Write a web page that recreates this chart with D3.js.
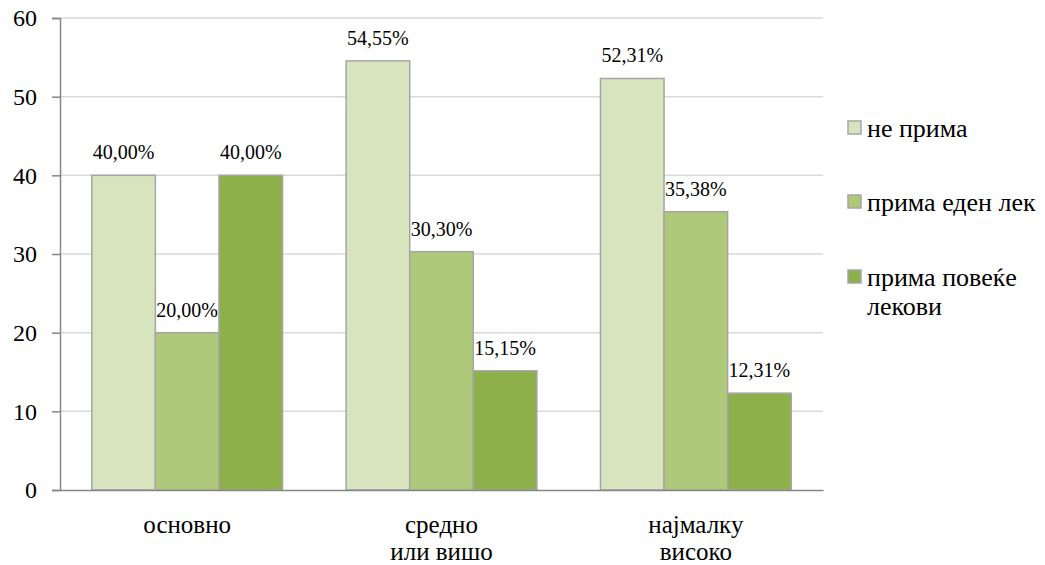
<!DOCTYPE html>
<html>
<head>
<meta charset="utf-8">
<script src="https://cdn.jsdelivr.net/npm/d3@7"></script>
<style>
  html, body { margin: 0; padding: 0; background: #fff; }
</style>
</head>
<body>
<svg id="chart" width="1045" height="565"></svg>
<script>
// Education level groups (two-line labels split by "\n")
const categories = ["основно", "средно\nили вишо", "најмалку\nвисоко"];
const seriesNames = ["не прима", "прима еден лек", "прима повеќе\nлекови"];
const noMedication = [40.00, 54.55, 52.31];
const oneMedication = [20.00, 30.30, 35.38];
const severalMedications = [40.00, 15.15, 12.31];
const yTicks = [0, 10, 20, 30, 40, 50, 60];
const colors = ["#d7e4bd", "#afc97b", "#8eb04a"];

const series = [noMedication, oneMedication, severalMedications];

// Pick the first installed serif face; fall back to a sans face with adjusted sizes
function hasFont(name) {
  const ctx = document.createElement("canvas").getContext("2d");
  const sample = "прима еден лек 0123456789 WMwmil";
  return ["monospace", "sans-serif", "serif"].some(base => {
    ctx.font = `40px ${base}`;
    const w0 = ctx.measureText(sample).width;
    ctx.font = `40px "${name}", ${base}`;
    return ctx.measureText(sample).width !== w0;
  });
}
const serifFace = ["Liberation Serif", "Times New Roman", "Tinos", "DejaVu Serif", "Noto Serif", "FreeSerif", "Nimbus Roman"].find(hasFont);
const FONT = serifFace ? `"${serifFace}", serif` : `"Liberation Sans", Arial, sans-serif`;
const sizes = serifFace
  ? { tick: 24, value: 20, category: 25, legend: 26 }
  : { tick: 22, value: 20, category: 25, legend: 25 };

const svg = d3.select("#chart").attr("font-family", FONT);
const x0 = 60, x1 = 823, yTop = 18, yBottom = 490;

const x = d3.scaleBand().domain(categories).range([x0, x1]).paddingInner(0.25).paddingOuter(0.125);
const xs = d3.scaleBand().domain(d3.range(series.length)).range([0, x.bandwidth()]);
const y = d3.scaleLinear().domain([0, 60]).range([yBottom, yTop]);

// Horizontal gridlines
svg.append("g").selectAll("line").data(yTicks.filter(t => t > 0)).join("line")
  .attr("x1", x0).attr("x2", x1)
  .attr("y1", d => y(d)).attr("y2", d => y(d))
  .attr("stroke", "#d9d9d9").attr("stroke-width", 1.5);

// Bars
const rows = [];
categories.forEach((c, ci) => series.forEach((s, si) => rows.push({ c, si, v: s[ci] })));

svg.append("g").selectAll("rect").data(rows).join("rect")
  .attr("x", d => x(d.c) + xs(d.si))
  .attr("y", d => y(d.v))
  .attr("width", xs.bandwidth())
  .attr("height", d => yBottom - y(d.v))
  .attr("fill", d => colors[d.si])
  .attr("stroke", "#a5a5a5").attr("stroke-width", 1.5);

// Value labels
svg.append("g").selectAll("text").data(rows).join("text")
  .attr("x", d => x(d.c) + xs(d.si) + xs.bandwidth() / 2)
  .attr("y", d => y(d.v) - 16)
  .attr("text-anchor", "middle")
  .attr("font-family", FONT)
  .attr("font-size", sizes.value)
  .attr("fill", "#000")
  .text(d => d.v.toFixed(2).replace(".", ",") + "%");

// Y axis
const yAxis = d3.axisLeft(y).tickValues(yTicks).tickSize(8).tickPadding(15);
const gy = svg.append("g").attr("transform", `translate(${x0},0)`).call(yAxis)
  .attr("font-family", FONT);
gy.select(".domain").attr("stroke", "#868686").attr("stroke-width", 1.5);
gy.selectAll(".tick line").attr("stroke", "#868686").attr("stroke-width", 1.5);
gy.selectAll(".tick text").attr("font-size", sizes.tick).attr("font-family", FONT).attr("fill", "#000");

// X axis baseline
const xAxis = d3.axisBottom(x).tickSize(0).tickFormat("");
const gx = svg.append("g").attr("transform", `translate(0,${yBottom})`).call(xAxis);
gx.select(".domain").attr("stroke", "#868686").attr("stroke-width", 1.5);

// Category labels (multi-line)
svg.append("g").selectAll("text").data(categories).join("text")
  .attr("x", d => x(d) + x.bandwidth() / 2)
  .attr("y", 533)
  .attr("text-anchor", "middle")
  .attr("font-family", FONT)
  .attr("font-size", sizes.category)
  .attr("fill", "#000")
  .each(function (d) {
    d.split("\n").forEach((line, i) => {
      d3.select(this).append("tspan")
        .attr("x", x(d) + x.bandwidth() / 2)
        .attr("dy", i === 0 ? 0 : 27)
        .text(line);
    });
  });

// Legend
const legendY = [127, 201, 276];
const legend = svg.append("g").selectAll("g").data(seriesNames).join("g")
  .attr("transform", (d, i) => `translate(848,${legendY[i]})`);
legend.append("rect")
  .attr("x", 0).attr("y", -6).attr("width", 13).attr("height", 13)
  .attr("fill", (d, i) => colors[i]).attr("stroke", "#a5a5a5").attr("stroke-width", 1.5);
legend.append("text")
  .attr("x", 19).attr("y", 10)
  .attr("font-family", FONT)
  .attr("font-size", sizes.legend)
  .attr("fill", "#000")
  .each(function (d) {
    d.split("\n").forEach((line, i) => {
      d3.select(this).append("tspan")
        .attr("x", 19)
        .attr("dy", i === 0 ? 0 : 29)
        .text(line);
    });
  });
</script>
</body>
</html>
